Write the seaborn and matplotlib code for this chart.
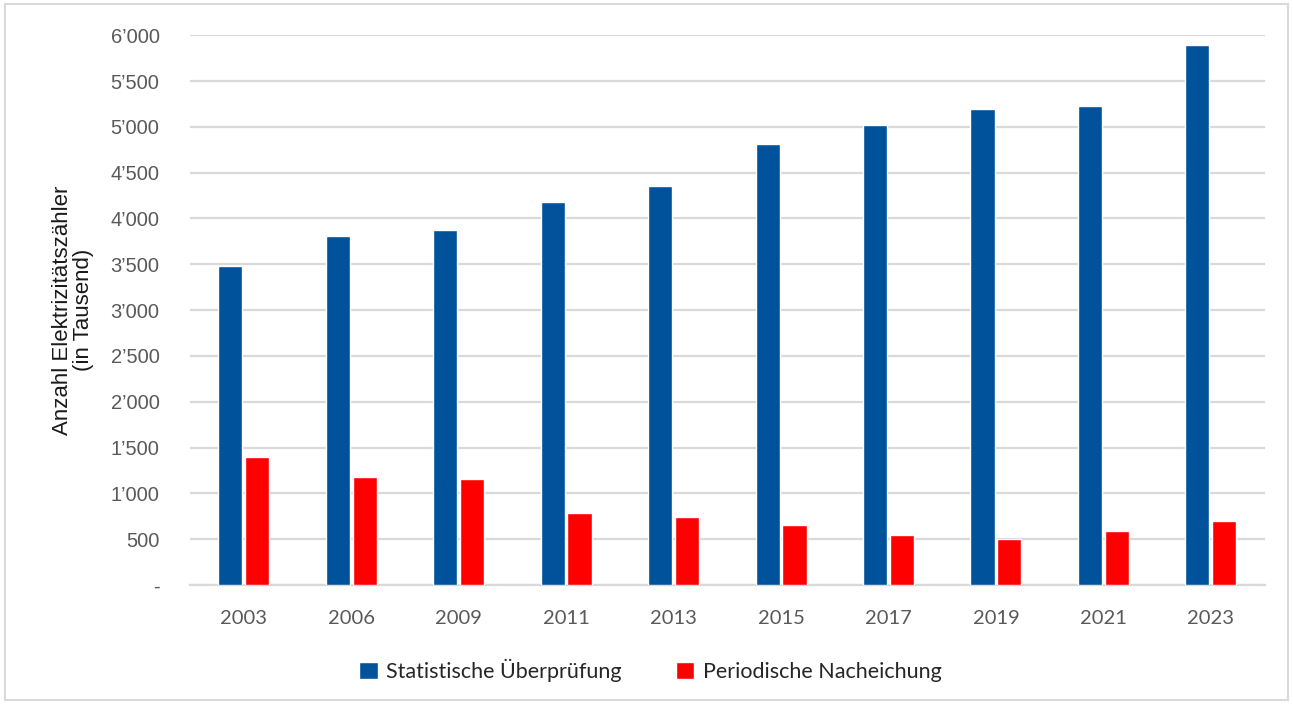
import pandas as pd
import matplotlib.pyplot as plt
import seaborn as sns
from matplotlib.ticker import FuncFormatter, MultipleLocator
from matplotlib.patches import Rectangle

# values (in thousand meters)
years = ["2003", "2006", "2009", "2011", "2013", "2015", "2017", "2019", "2021", "2023"]
statistische = [3480, 3805, 3870, 4175, 4350, 4810, 5025, 5200, 5222, 5895]
periodische = [1400, 1182, 1160, 790, 746, 660, 550, 506, 593, 702]

lbl_stat = "Statistische Überprüfung"
lbl_per = "Periodische Nacheichung"

df = pd.DataFrame({
    "Jahr": years * 2,
    "Anzahl": statistische + periodische,
    "Serie": [lbl_stat] * len(years) + [lbl_per] * len(years),
})

sns.set_theme(style="white")
plt.rcParams["font.family"] = ["Liberation Sans", "DejaVu Sans"]

fig = plt.figure(figsize=(12.93, 7.04), dpi=100)
ax = fig.add_axes([0.147, 0.169, 0.831, 0.781])

sns.barplot(data=df, x="Jahr", y="Anzahl", hue="Serie", ax=ax,
            palette=["#00539A", "#FF0000"], width=0.5, gap=0.1,
            saturation=1, errorbar=None, zorder=3)

ax.set_ylim(0, 6000)
ax.yaxis.set_major_locator(MultipleLocator(500))
ax.yaxis.set_major_formatter(FuncFormatter(
    lambda v, p: "-" if v == 0 else f"{v:,.0f}".replace(",", "\u2019")))
ax.grid(axis="y", color="#d9d9d9", linewidth=1.6, zorder=0)
ax.set_axisbelow(True)
for s in ["top", "right", "left"]:
    ax.spines[s].set_visible(False)
ax.spines["bottom"].set_color("#d9d9d9")
ax.spines["bottom"].set_linewidth(1.6)

ax.tick_params(axis="y", length=0, pad=22, labelsize=14.5, labelcolor="#595959")
ax.tick_params(axis="x", length=0, pad=18, labelsize=14.5, labelcolor="#595959")
for t in ax.get_xticklabels():
    t.set_family(["Lato", "DejaVu Sans"])

ax.set_xlabel("")
ax.set_ylabel("Anzahl Elektrizitätszähler\n(in Tausend)", fontsize=16,
              color="#1a1a1a", linespacing=1.0, labelpad=12)

sns.move_legend(ax, "center", bbox_to_anchor=(0.503, 0.048),
                bbox_transform=fig.transFigure, ncol=2, frameon=False,
                title=None, prop={"family": "Lato", "size": 15.5},
                handlelength=0.85, handleheight=0.85, handletextpad=0.4,
                columnspacing=2.5)

# thin border round the whole chart
fig.patches.append(Rectangle((0.004, 0.006), 0.992, 0.988, transform=fig.transFigure,
                             fill=False, edgecolor="#d9d9d9", linewidth=1.5))

fig.savefig("out.png", dpi=100)
